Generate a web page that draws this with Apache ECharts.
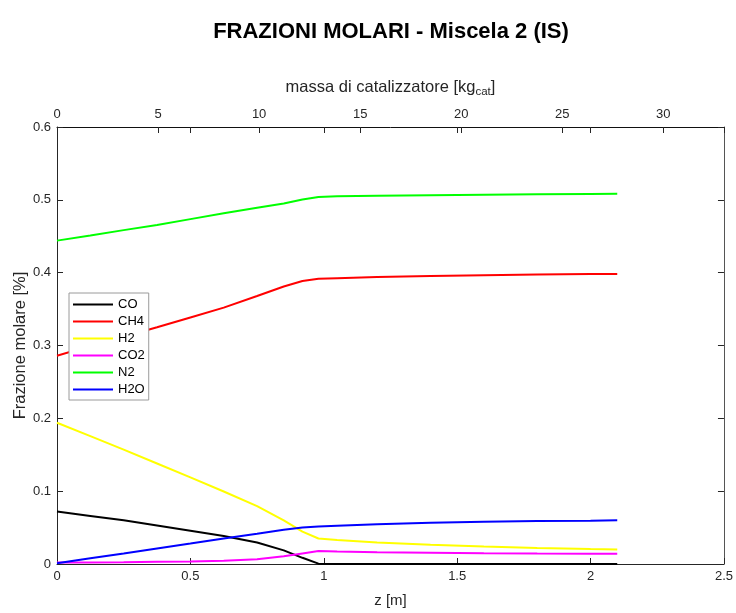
<!DOCTYPE html>
<html>
<head>
<meta charset="utf-8">
<script src="https://cdn.jsdelivr.net/npm/echarts@6/dist/echarts.min.js"></script>
<style>html,body{margin:0;padding:0;background:#fff}#c{width:736px;height:613px}</style>
</head>
<body>
<div id="c"></div>
<script>
// Axial position z [m]
var z    = [0, 0.125, 0.25, 0.375, 0.5, 0.625, 0.75, 0.85, 0.92, 0.98, 1.05, 1.2, 1.4, 1.6, 1.8, 2.0, 2.1];
var CO   = [0.072, 0.066, 0.060, 0.053, 0.0457, 0.0385, 0.0295, 0.0187, 0.0085, 0.0005, 0, 0, 0, 0, 0, 0, 0];
var CH4  = [0.286, 0.2995, 0.312, 0.325, 0.3385, 0.352, 0.368, 0.381, 0.3885, 0.3915, 0.3925, 0.394, 0.3953, 0.3965, 0.3975, 0.398, 0.3983];
var H2   = [0.194, 0.1755, 0.157, 0.138, 0.119, 0.0995, 0.0795, 0.060, 0.0445, 0.0350, 0.033, 0.0295, 0.0265, 0.024, 0.022, 0.0205, 0.020];
var CO2  = [0.002, 0.0022, 0.0025, 0.003, 0.0035, 0.0045, 0.0065, 0.0105, 0.0145, 0.0178, 0.0172, 0.0163, 0.0155, 0.0149, 0.0145, 0.0142, 0.0141];
var N2   = [0.444, 0.451, 0.4584, 0.4653, 0.4735, 0.4815, 0.489, 0.495, 0.5005, 0.504, 0.5048, 0.5055, 0.5063, 0.507, 0.5075, 0.508, 0.5082];
var H2O  = [0.001, 0.0078, 0.0145, 0.0213, 0.028, 0.035, 0.0415, 0.047, 0.050, 0.0515, 0.0525, 0.0545, 0.0565, 0.058, 0.059, 0.0595, 0.060];
var seriesNames = ['CO', 'CH4', 'H2', 'CO2', 'N2', 'H2O'];
var seriesData  = [CO, CH4, H2, CO2, N2, H2O];
var seriesColors = ['#000000', '#ff0000', '#ffff00', '#ff00ff', '#00ff00', '#0000ff'];
var zTicks = {min: 0, max: 2.5, interval: 0.5};
var massTicks = {min: 0, max: 33, interval: 5};
var yTicks = {min: 0, max: 0.6, interval: 0.1};

var FONT = "'Liberation Sans', Arial, Helvetica, sans-serif";
var AX = '#262626';
var GRID = {left: 57, right: 12, top: 127, bottom: 47, containLabel: false};

var chart = echarts.init(document.getElementById('c'), null, {renderer: 'canvas'});
var series = seriesNames.map(function (n, i) {
  return {
    name: n, type: 'line', xAxisIndex: 0, yAxisIndex: 0,
    symbol: 'none', smooth: false, animation: false,
    lineStyle: {color: seriesColors[i], width: 2},
    itemStyle: {color: seriesColors[i]},
    data: z.map(function (zz, k) { return [zz, seriesData[i][k]]; })
  };
});

chart.setOption({
  backgroundColor: '#ffffff',
  animation: false,
  title: {
    text: 'FRAZIONI MOLARI - Miscela 2 (IS)',
    left: 386, textAlign: 'center', top: 16,
    textStyle: {fontFamily: FONT, fontSize: 22, fontWeight: 'bold', color: '#000'}
  },
  legend: {
    orient: 'vertical', left: 69, top: 293,
    icon: 'rect', itemWidth: 40, itemHeight: 2, itemGap: 2,
    padding: [4, 4, 3, 4],
    borderColor: '#9a9a9a', borderWidth: 1, backgroundColor: '#fff',
    textStyle: {fontFamily: FONT, fontSize: 13, color: '#000', lineHeight: 15},
    data: seriesNames
  },
  grid: [GRID, GRID],
  xAxis: [
    {
      gridIndex: 0, type: 'value', position: 'bottom', min: zTicks.min, max: zTicks.max, interval: zTicks.interval,
      name: 'z [m]', nameLocation: 'middle', nameGap: 29, nameMoveOverlap: false,
      nameTextStyle: {fontFamily: FONT, fontSize: 15, color: AX},
      axisLine: {show: true, onZero: false, lineStyle: {color: AX, width: 1}},
      axisTick: {show: true, inside: true, length: 6, lineStyle: {color: AX}},
      axisLabel: {fontFamily: FONT, fontSize: 13, color: AX, margin: 6},
      splitLine: {show: false}
    },
    {
      gridIndex: 0, type: 'value', position: 'top', min: massTicks.min, max: massTicks.max, interval: massTicks.interval,
      name: 'massa di catalizzatore [kg{sub|cat}]', nameLocation: 'middle', nameGap: 29, nameMoveOverlap: false,
      nameTextStyle: {fontFamily: FONT, fontSize: 16.5, color: AX,
        rich: {sub: {fontFamily: FONT, fontSize: 11.5, color: AX, padding: [10, 0, 0, 0]}}},
      axisLine: {show: true, onZero: false, lineStyle: {color: '#111', width: 1}},
      axisTick: {show: true, inside: true, length: 6, lineStyle: {color: AX}},
      axisLabel: {fontFamily: FONT, fontSize: 13, color: AX, margin: 6, showMaxLabel: false},
      splitLine: {show: false}
    },
    {
      gridIndex: 1, type: 'value', position: 'top', min: zTicks.min, max: zTicks.max, interval: zTicks.interval,
      axisLine: {show: false, onZero: false},
      axisTick: {show: true, inside: true, length: 6, lineStyle: {color: AX}},
      axisLabel: {show: false},
      splitLine: {show: false}
    }
  ],
  yAxis: [
    {
      gridIndex: 0, type: 'value', position: 'left', min: yTicks.min, max: yTicks.max, interval: yTicks.interval,
      name: 'Frazione molare [%]', nameLocation: 'middle', nameGap: 28, nameMoveOverlap: false,
      nameTextStyle: {fontFamily: FONT, fontSize: 16.5, color: AX},
      axisLine: {show: true, onZero: false, lineStyle: {color: AX, width: 1}},
      axisTick: {show: true, inside: true, length: 6, lineStyle: {color: AX}},
      axisLabel: {fontFamily: FONT, fontSize: 13, color: AX, margin: 6,
        formatter: function (v) { return String(Math.round(v * 10) / 10); }},
      splitLine: {show: false}
    },
    {
      gridIndex: 0, type: 'value', position: 'right', min: yTicks.min, max: yTicks.max, interval: yTicks.interval,
      axisLine: {show: true, onZero: false, lineStyle: {color: '#555', width: 1}},
      axisTick: {show: true, inside: true, length: 6, lineStyle: {color: AX}},
      axisLabel: {show: false},
      splitLine: {show: false}
    },
    {
      gridIndex: 1, type: 'value', position: 'left', min: yTicks.min, max: yTicks.max, interval: yTicks.interval,
      show: false
    }
  ],
  series: series
});
</script>
</body>
</html>
